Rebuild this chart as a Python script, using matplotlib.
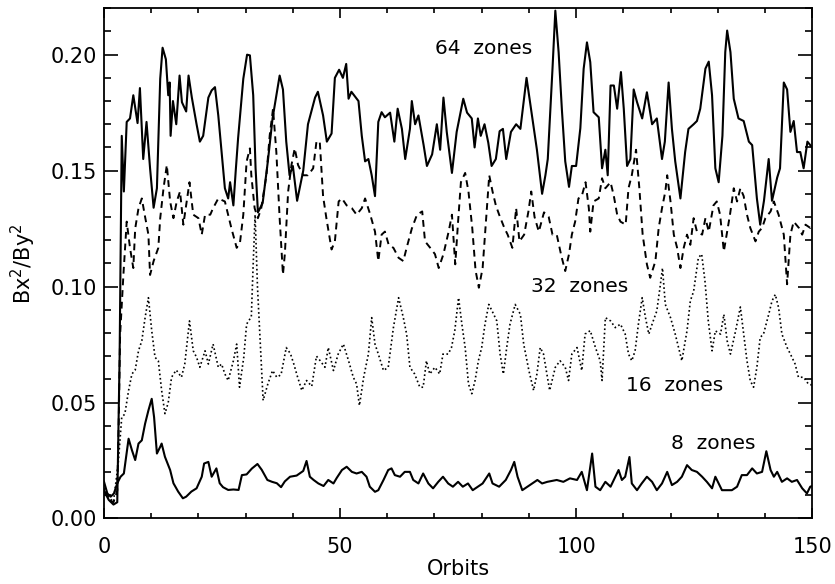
import matplotlib
matplotlib.use('Agg')
import matplotlib.pyplot as plt
from matplotlib.ticker import MultipleLocator, FormatStrFormatter

# Bx^2/By^2 against time for four resolutions
orbit64 = [0, 1.0, 2.0, 2.8, 3.3, 3.75, 4.2, 4.8, 5.5, 6.2, 7.1, 7.6, 8.3, 9.0, 9.75, 10.5, 11.2, 11.9,
           12.4, 13.1, 13.6, 13.9, 14.1, 14.6, 15.3, 16.0, 16.5, 17.4, 17.9, 18.6, 19.6, 20.3, 21.0,
           22.1, 22.8, 23.5, 24.2, 24.7, 25.6, 26.3, 26.7, 27.4, 27.9, 28.4, 29.5, 30.3, 30.9, 31.6,
           32.1, 32.6, 33.6, 34.7, 35.7, 37.2, 37.9, 38.6, 39.3, 40.0, 40.9, 42.2, 43.2, 44.7, 45.3,
           46.4, 47.2, 48.2, 48.9, 49.8, 50.6, 51.3, 51.8, 52.4, 53.9, 54.6, 55.3, 56.0, 56.7, 57.4,
           58.1, 58.8, 59.5, 60.6, 61.5, 62.2, 63.1, 63.8, 64.8, 65.2, 65.9, 66.6, 67.7, 68.4, 69.5,
           70.5, 71.2, 71.9, 72.6, 73.7, 74.7, 76.1, 76.9, 77.9, 78.5, 79.2, 79.8, 80.6, 81.4, 82.1,
           83.0, 83.8, 84.5, 85.2, 86.2, 87.3, 88.2, 89.5, 90.5, 91.7, 92.8, 93.5, 94.0, 95.0, 95.6,
           96.3, 97.0, 97.7, 98.5, 99.1, 100.0, 100.9, 101.6, 102.3, 103.0, 103.7, 104.8, 105.5,
           106.2, 106.7, 107.3, 108.0, 108.7, 109.5, 110.1, 110.8, 111.5, 112.2, 112.9, 114.0, 115.0,
           116.1, 117.1, 118.2, 118.8, 119.6, 120.3, 121.0, 122.1, 123.1, 123.8, 124.9, 125.6, 126.3,
           127.4, 128.1, 128.8, 129.5, 130.2, 131.0, 131.6, 132.0, 132.7, 133.4, 134.4, 135.5, 136.6,
           137.3, 138.3, 139.0, 139.8, 140.8, 141.5, 142.6, 143.2, 144.0, 144.7, 145.4, 146.1, 146.8,
           147.5, 148.2, 149.0, 150.0]
ratio64 = [0.012, 0.008, 0.006, 0.007, 0.07, 0.165, 0.141, 0.171, 0.1725, 0.1825, 0.1705, 0.1856, 0.155,
           0.171, 0.151, 0.134, 0.1424, 0.1896, 0.203, 0.198, 0.1825, 0.188, 0.165, 0.18, 0.17, 0.191,
           0.1795, 0.1755, 0.191, 0.1815, 0.17, 0.1625, 0.165, 0.1815, 0.1846, 0.186, 0.1738, 0.1625,
           0.1424, 0.138, 0.145, 0.135, 0.15, 0.164, 0.1896, 0.2, 0.1997, 0.1825, 0.151, 0.132, 0.136,
           0.154, 0.1725, 0.191, 0.185, 0.1625, 0.148, 0.152, 0.137, 0.15, 0.17, 0.1815, 0.184, 0.1738,
           0.1625, 0.166, 0.19, 0.1935, 0.19, 0.196, 0.181, 0.184, 0.18, 0.165, 0.154, 0.155, 0.148,
           0.139, 0.171, 0.1752, 0.173, 0.175, 0.1625, 0.1767, 0.168, 0.155, 0.168, 0.18, 0.17, 0.1738,
           0.161, 0.152, 0.157, 0.17, 0.159, 0.1815, 0.1667, 0.149, 0.1667, 0.181, 0.175, 0.1725, 0.16,
           0.1725, 0.165, 0.17, 0.162, 0.152, 0.155, 0.167, 0.168, 0.155, 0.1667, 0.17, 0.168, 0.19,
           0.176, 0.159, 0.14, 0.148, 0.155, 0.1939, 0.219, 0.201, 0.176, 0.154, 0.143, 0.152, 0.152,
           0.1683, 0.1939, 0.2053, 0.1968, 0.1752, 0.173, 0.151, 0.159, 0.148, 0.1867, 0.1867, 0.1767,
           0.1925, 0.1767, 0.152, 0.155, 0.185, 0.1796, 0.1725, 0.1838, 0.17, 0.1725, 0.155, 0.1625,
           0.188, 0.168, 0.154, 0.138, 0.158, 0.168, 0.17, 0.1714, 0.1767, 0.194, 0.197, 0.1825, 0.151,
           0.145, 0.165, 0.2011, 0.2104, 0.2011, 0.181, 0.1725, 0.1714, 0.1625, 0.161, 0.138, 0.1267,
           0.137, 0.155, 0.137, 0.147, 0.151, 0.188, 0.185, 0.1667, 0.1714, 0.158, 0.158, 0.151,
           0.1625, 0.16]

orbit32 = [0, 1.0, 2.0, 2.8, 3.1, 3.4, 4.1, 4.8, 5.5, 6.2, 6.6, 7.3, 8.0, 8.7, 9.4, 9.75, 10.5, 11.5,
           11.9, 12.6, 13.3, 14.0, 14.7, 15.4, 16.1, 16.8, 17.5, 18.1, 18.9, 20.0, 20.7, 21.4, 22.5,
           23.1, 24.2, 25.6, 27.0, 28.1, 28.8, 29.5, 30.2, 30.9, 31.2, 31.9, 32.6, 33.3, 34.4, 35.1,
           35.8, 36.5, 37.2, 37.9, 38.3, 39.0, 39.7, 40.4, 41.1, 42.2, 43.2, 44.3, 45.0, 45.7, 46.4,
           47.1, 48.2, 48.9, 49.7, 50.4, 51.4, 52.5, 53.5, 54.6, 55.3, 56.4, 57.4, 58.1, 58.8, 59.5,
           60.3, 61.3, 62.4, 63.4, 64.1, 65.2, 66.3, 67.4, 68.0, 69.1, 70.1, 70.9, 71.9, 73.0, 73.7,
           74.4, 75.0, 75.6, 76.5, 77.2, 78.0, 78.7, 79.4, 80.2, 80.9, 81.6, 82.3, 83.0, 83.7, 84.8,
           85.5, 86.5, 87.3, 88.0, 89.0, 89.9, 90.5, 91.2, 92.1, 93.2, 94.2, 95.0, 95.9, 96.9, 97.7,
           98.5, 99.1, 99.8, 100.5, 101.2, 102.0, 102.7, 103.0, 103.7, 104.8, 105.5, 106.2, 107.3,
           108.0, 108.7, 109.4, 110.5, 111.1, 111.8, 112.7, 113.4, 114.1, 115.0, 115.7, 116.8, 117.5,
           118.2, 118.9, 119.3, 120.0, 120.7, 121.4, 122.1, 122.8, 123.5, 124.2, 124.9, 125.6, 126.7,
           127.4, 128.1, 129.1, 129.8, 130.5, 131.3, 131.9, 132.6, 133.4, 134.1, 134.8, 135.5, 136.2,
           136.9, 138.0, 138.7, 139.4, 140.1, 141.2, 141.9, 142.9, 144.0, 144.7, 145.4, 146.1, 147.2,
           147.9, 148.6, 149.6, 150.0]
ratio32 = [0.012, 0.008, 0.007, 0.012, 0.04, 0.079, 0.105, 0.128, 0.1167, 0.108, 0.125, 0.1338, 0.138,
           0.13, 0.1224, 0.105, 0.111, 0.1167, 0.1295, 0.1424, 0.1524, 0.1367, 0.1295, 0.1367, 0.141,
           0.1267, 0.1367, 0.145, 0.131, 0.1295, 0.1224, 0.131, 0.131, 0.1338, 0.138, 0.1367, 0.125,
           0.1167, 0.119, 0.131, 0.1539, 0.1596, 0.148, 0.1338, 0.1295, 0.1338, 0.148, 0.1653, 0.1767,
           0.158, 0.1295, 0.1052, 0.114, 0.141, 0.1524, 0.1596, 0.1524, 0.148, 0.148, 0.151, 0.1625,
           0.1625, 0.139, 0.1295, 0.116, 0.1195, 0.1367, 0.138, 0.135, 0.1338, 0.131, 0.1338, 0.138,
           0.131, 0.1237, 0.111, 0.1224, 0.1237, 0.118, 0.1167, 0.1124, 0.111, 0.1167, 0.125, 0.131,
           0.1324, 0.1195, 0.1167, 0.114, 0.108, 0.114, 0.1237, 0.131, 0.1096, 0.128, 0.145, 0.149,
           0.141, 0.1253, 0.107, 0.0995, 0.108, 0.128, 0.148, 0.141, 0.135, 0.131, 0.1253, 0.1224,
           0.1167, 0.1338, 0.1195, 0.1224, 0.1324, 0.141, 0.13, 0.1237, 0.132, 0.13, 0.1224, 0.1224,
           0.113, 0.1067, 0.114, 0.1224, 0.128, 0.138, 0.139, 0.145, 0.1338, 0.1237, 0.1367, 0.138,
           0.1467, 0.1424, 0.145, 0.139, 0.131, 0.128, 0.1267, 0.1424, 0.148, 0.159, 0.1424, 0.1224,
           0.1096, 0.1038, 0.111, 0.1253, 0.1338, 0.141, 0.148, 0.1367, 0.1224, 0.1167, 0.108, 0.1167,
           0.1224, 0.118, 0.1295, 0.1237, 0.1224, 0.1295, 0.1237, 0.135, 0.1367, 0.131, 0.1152,
           0.1224, 0.131, 0.1424, 0.1367, 0.1424, 0.139, 0.131, 0.1253, 0.1195, 0.1237, 0.1253,
           0.1295, 0.1324, 0.1367, 0.131, 0.1224, 0.101, 0.1224, 0.128, 0.1253, 0.1224, 0.1267,
           0.1253, 0.127]

orbit16 = [0, 1.0, 2.0, 3.0, 3.75, 4.4, 5.2, 5.9, 6.6, 7.3, 8.0, 8.7, 9.4, 10.1, 10.8, 11.5, 12.2, 12.9,
           13.6, 14.3, 15.3, 16.4, 17.1, 18.1, 18.9, 19.6, 20.3, 21.4, 22.1, 23.1, 24.2, 24.9, 25.6,
           26.3, 27.4, 28.1, 28.7, 29.6, 30.2, 31.2, 31.6, 32.0, 32.5, 33.0, 33.7, 34.7, 35.7, 36.6,
           37.5, 38.6, 39.5, 40.2, 41.0, 41.9, 42.9, 44.0, 45.0, 45.8, 46.8, 47.5, 48.6, 49.6, 50.7,
           51.8, 52.8, 53.5, 54.1, 55.0, 56.0, 56.7, 57.4, 58.1, 59.2, 60.2, 61.3, 62.4, 63.4, 64.1,
           64.8, 65.8, 66.9, 67.6, 68.3, 69.0, 70.1, 71.1, 71.8, 72.9, 73.6, 74.3, 75.1, 75.8, 76.5,
           77.2, 77.9, 78.6, 79.3, 80.0, 80.7, 81.5, 82.2, 83.2, 83.9, 84.6, 85.3, 86.0, 87.1, 88.2,
           88.9, 90.0, 91.0, 91.7, 92.4, 93.1, 93.8, 94.4, 95.6, 96.6, 97.7, 98.4, 99.1, 100.2, 101.2,
           101.9, 103.0, 104.1, 105.1, 105.5, 106.2, 107.3, 108.3, 109.4, 110.4, 111.1, 111.8, 112.5,
           113.2, 114.0, 114.7, 115.4, 116.1, 117.1, 117.8, 118.3, 118.9, 120.0, 121.0, 122.4, 123.5,
           124.2, 124.9, 125.9, 126.6, 127.3, 128.0, 128.8, 129.5, 130.6, 131.3, 132.0, 132.7, 133.8,
           134.8, 135.5, 136.2, 136.9, 137.6, 138.3, 139.0, 139.7, 140.8, 141.5, 142.2, 142.9, 143.6,
           144.7, 145.4, 146.4, 147.1, 148.2, 149.2, 150.0]
ratio16 = [0.013, 0.009, 0.0072, 0.0237, 0.0437, 0.045, 0.0552, 0.0623, 0.064, 0.0723, 0.0766, 0.0866,
           0.0952, 0.081, 0.0695, 0.068, 0.0552, 0.0452, 0.05, 0.0609, 0.064, 0.0609, 0.0666, 0.0852,
           0.0723, 0.0695, 0.0652, 0.0723, 0.0666, 0.0752, 0.0652, 0.0666, 0.0623, 0.0595, 0.068,
           0.0752, 0.0566, 0.0695, 0.0838, 0.087, 0.11, 0.131, 0.10, 0.0795, 0.0509, 0.058, 0.0638,
           0.0609, 0.062, 0.0737, 0.071, 0.0666, 0.061, 0.0552, 0.0595, 0.057, 0.07, 0.068, 0.0652,
           0.0737, 0.0638, 0.0709, 0.0752, 0.068, 0.0609, 0.058, 0.0487, 0.0609, 0.0709, 0.0866,
           0.0752, 0.0709, 0.0638, 0.0652, 0.0823, 0.0952, 0.0866, 0.0795, 0.0652, 0.0623, 0.0566,
           0.0566, 0.068, 0.0623, 0.0652, 0.0623, 0.0709, 0.0709, 0.0737, 0.081, 0.0952, 0.0838,
           0.0737, 0.058, 0.0538, 0.0595, 0.068, 0.0737, 0.0838, 0.0923, 0.0895, 0.0852, 0.0709,
           0.0623, 0.0737, 0.0838, 0.0923, 0.088, 0.0752, 0.0638, 0.0552, 0.0623, 0.0737, 0.0709,
           0.0623, 0.0552, 0.0652, 0.068, 0.0652, 0.0595, 0.0709, 0.0737, 0.0638, 0.0795, 0.081,
           0.0737, 0.068, 0.0595, 0.0866, 0.0852, 0.0823, 0.0838, 0.0795, 0.0709, 0.068, 0.0723,
           0.0838, 0.0952, 0.0866, 0.0795, 0.0838, 0.0895, 0.100, 0.108, 0.0923, 0.0866, 0.0795,
           0.068, 0.081, 0.0938, 0.098, 0.1124, 0.114, 0.1024, 0.0852, 0.0723, 0.0809, 0.0795, 0.088,
           0.0766, 0.0709, 0.081, 0.0912, 0.0795, 0.068, 0.0594, 0.0566, 0.0652, 0.0781, 0.0795,
           0.088, 0.0938, 0.0966, 0.0909, 0.0795, 0.0737, 0.0709, 0.0666, 0.0609, 0.0609, 0.058,
           0.0575]

orbit8 = [0, 0.7, 1.4, 2.1, 2.8, 3.5, 4.2, 5.2, 5.9, 6.6, 7.3, 8.0, 8.7, 9.4, 10.1, 10.6, 11.2, 11.9,
          12.2, 12.9, 14.0, 14.7, 15.7, 16.7, 17.4, 18.5, 19.6, 20.7, 21.2, 22.1, 22.8, 23.8, 24.5,
          25.2, 26.3, 27.4, 28.5, 29.2, 30.2, 31.3, 32.5, 33.4, 34.6, 35.6, 36.6, 37.5, 38.3, 39.4,
          40.8, 42.2, 42.9, 43.6, 44.4, 45.4, 46.5, 47.5, 48.6, 49.3, 50.4, 51.4, 52.5, 53.5, 54.6,
          55.6, 56.3, 57.4, 58.1, 59.2, 60.2, 60.9, 61.6, 62.7, 63.7, 64.8, 65.5, 66.6, 67.6, 68.7,
          69.7, 70.8, 71.8, 72.9, 73.9, 75.0, 76.0, 77.1, 78.1, 79.2, 80.2, 81.6, 82.3, 83.7, 85.1,
          86.2, 86.9, 87.6, 88.6, 89.7, 90.7, 91.8, 92.8, 93.9, 95.9, 97.3, 98.7, 100.2, 101.2, 102.3,
          103.4, 104.1, 105.1, 106.2, 107.3, 108.3, 109.0, 109.7, 110.4, 111.3, 111.8, 112.9, 113.9,
          115.0, 116.1, 117.1, 118.2, 119.3, 120.3, 121.4, 122.4, 123.5, 124.5, 125.6, 126.7, 127.7,
          128.8, 129.5, 130.2, 130.9, 132.0, 133.0, 134.1, 135.1, 136.2, 137.3, 138.3, 139.4, 140.3,
          141.2, 141.9, 142.6, 143.6, 144.7, 145.7, 146.8, 147.9, 148.9, 149.6, 150.0]
ratio8 = [0.0158, 0.0108, 0.0094, 0.0108, 0.0152, 0.018, 0.0194, 0.0344, 0.0295, 0.0252, 0.0323,
          0.0337, 0.0409, 0.0466, 0.0516, 0.0437, 0.028, 0.0309, 0.0323, 0.0266, 0.0209, 0.0152,
          0.0116, 0.0087, 0.0094, 0.0116, 0.013, 0.018, 0.0237, 0.0244, 0.018, 0.0216, 0.0152,
          0.0135, 0.0123, 0.0125, 0.0123, 0.0187, 0.019, 0.0215, 0.0235, 0.021, 0.0166, 0.0158,
          0.0152, 0.0135, 0.016, 0.018, 0.0185, 0.0205, 0.0248, 0.018, 0.0166, 0.0151, 0.014, 0.0166,
          0.0151, 0.0175, 0.0209, 0.0223, 0.0201, 0.0194, 0.0201, 0.018, 0.0137, 0.0115, 0.0122,
          0.0166, 0.0209, 0.0216, 0.0187, 0.018, 0.0201, 0.0201, 0.0166, 0.0151, 0.0194, 0.0151,
          0.013, 0.0158, 0.018, 0.0151, 0.0137, 0.0158, 0.0137, 0.0151, 0.0122, 0.0137, 0.0151,
          0.0194, 0.0151, 0.0137, 0.0166, 0.0209, 0.0244, 0.018, 0.0122, 0.0137, 0.0151, 0.0166,
          0.0151, 0.0158, 0.0166, 0.0158, 0.0173, 0.0166, 0.0201, 0.0122, 0.028, 0.0137, 0.0122,
          0.0158, 0.0137, 0.018, 0.0209, 0.0166, 0.018, 0.0265, 0.0151, 0.0122, 0.0151, 0.018,
          0.0158, 0.0122, 0.0151, 0.0201, 0.0144, 0.0158, 0.018, 0.023, 0.0209, 0.0201, 0.018,
          0.0158, 0.013, 0.018, 0.0151, 0.0122, 0.0122, 0.0122, 0.0137, 0.0187, 0.0187, 0.0216,
          0.0194, 0.0201, 0.029, 0.0209, 0.018, 0.0201, 0.0158, 0.0173, 0.0158, 0.0166, 0.013,
          0.0108, 0.0137, 0.014]

labels = ['64  zones', '32  zones', '16  zones', '8  zones']
label_x = [70.2, 90.5, 110.6, 120.1]
label_y = [0.2027, 0.0999, 0.0575, 0.0324]

fig = plt.figure(figsize=(8.35, 5.84), dpi=100)
ax = fig.add_axes([0.1246, 0.1122, 0.848, 0.8736])

ax.plot(orbit64, ratio64, color='black', lw=1.5, ls='-')
ax.plot(orbit32, ratio32, color='black', lw=1.4, ls=(0, (3.5, 2.5)))
ax.plot(orbit16, ratio16, color='black', lw=1.2, ls=(0, (1, 1.6)))
ax.plot(orbit8, ratio8, color='black', lw=1.5, ls='-')

for t, x, y in zip(labels, label_x, label_y):
    ax.text(x, y, t, fontsize=14.5, ha='left', va='center')

ax.set_xlim(0, 150)
ax.set_ylim(0, 0.22)
ax.xaxis.set_major_locator(MultipleLocator(50))
ax.xaxis.set_minor_locator(MultipleLocator(10))
ax.yaxis.set_major_locator(MultipleLocator(0.05))
ax.yaxis.set_minor_locator(MultipleLocator(0.01))
ax.yaxis.set_major_formatter(FormatStrFormatter('%.2f'))

ax.tick_params(which='both', direction='in', top=True, right=True, width=1.2, labelsize=15)
ax.tick_params(axis='x', which='major', length=7.5, pad=13)
ax.tick_params(axis='x', which='minor', length=3.8)
ax.tick_params(axis='y', which='major', length=10, pad=5)
ax.tick_params(axis='y', which='minor', length=5)
for s in ax.spines.values():
    s.set_linewidth(1.3)

ax.set_xlabel('Orbits', fontsize=15)
ax.set_ylabel('Bx$^2$/By$^2$', fontsize=15)
ax.xaxis.set_label_coords(0.5, -0.08)
ax.yaxis.set_label_coords(-0.093, 0.5)

plt.savefig('out.png', dpi=100)
